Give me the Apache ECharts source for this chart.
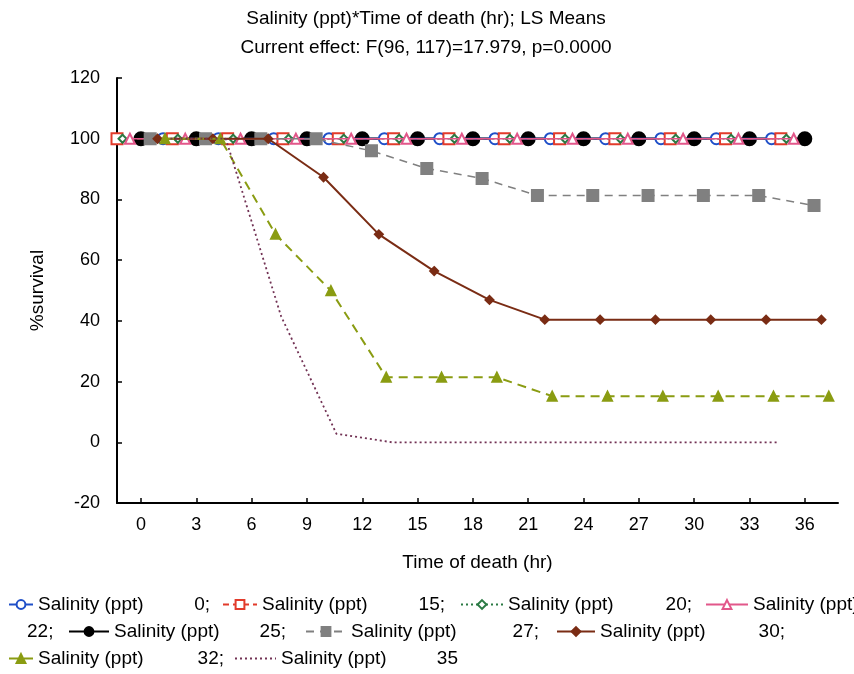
<!DOCTYPE html>
<html>
<head>
<meta charset="utf-8">
<script src="https://cdn.jsdelivr.net/npm/echarts@6/dist/echarts.min.js"></script>
<style>html,body{margin:0;padding:0;background:#fff;}#c{width:854px;height:674px;}</style>
</head>
<body>
<div id="c"></div>
<script>
// ---- data ----
const salinity = [0, 15, 20, 22, 25, 27, 30, 32, 35];
const xTicks = [0, 3, 6, 9, 12, 15, 18, 21, 24, 27, 30, 33, 36];

const t0  = [1.2, 4.2, 7.2, 10.2, 13.2, 16.2, 19.2, 22.2, 25.2, 28.2, 31.2, 34.2];
const v0  = [100, 100, 100, 100, 100, 100, 100, 100, 100, 100, 100, 100];
const t15 = [-1.3, 1.7, 4.7, 7.7, 10.7, 13.7, 16.7, 19.7, 22.7, 25.7, 28.7, 31.7, 34.7];
const v15 = [100, 100, 100, 100, 100, 100, 100, 100, 100, 100, 100, 100, 100];
const t20 = [-1.0, 2.0, 5.0, 8.0, 11.0, 14.0, 17.0, 20.0, 23.0, 26.0, 29.0, 32.0, 35.0];
const v20 = [100, 100, 100, 100, 100, 100, 100, 100, 100, 100, 100, 100, 100];
const t22 = [-0.6, 2.4, 5.4, 8.4, 11.4, 14.4, 17.4, 20.4, 23.4, 26.4, 29.4, 32.4, 35.4];
const v22 = [100, 100, 100, 100, 100, 100, 100, 100, 100, 100, 100, 100, 100];
const t25 = [0, 3, 6, 9, 12, 15, 18, 21, 24, 27, 30, 33, 36];
const v25 = [100, 100, 100, 100, 100, 100, 100, 100, 100, 100, 100, 100, 100];
const t27 = [0.5, 3.5, 6.5, 9.5, 12.5, 15.5, 18.5, 21.5, 24.5, 27.5, 30.5, 33.5, 36.5];
const v27 = [100, 100, 100, 100, 96, 90.2, 86.9, 81.3, 81.3, 81.3, 81.3, 81.3, 78];
const t30 = [0.9, 3.9, 6.9, 9.9, 12.9, 15.9, 18.9, 21.9, 24.9, 27.9, 30.9, 33.9, 36.9];
const v30 = [100, 100, 100, 87.3, 68.5, 56.4, 46.9, 40.4, 40.4, 40.4, 40.4, 40.4, 40.4];
const t32 = [1.3, 4.3, 7.3, 10.3, 13.3, 16.3, 19.3, 22.3, 25.3, 28.3, 31.3, 34.3, 37.3];
const v32 = [100, 100, 68.5, 49.9, 21.4, 21.4, 21.4, 15.2, 15.2, 15.2, 15.2, 15.2, 15.2];
const t35 = [1.6, 4.6, 7.6, 10.6, 13.6, 16.6, 19.6, 22.6, 25.6, 28.6, 31.6, 34.6];
const v35 = [100, 100, 41.5, 2.8, 0, 0, 0, 0, 0, 0, 0, 0];

const times = [t0, t15, t20, t22, t25, t27, t30, t32, t35];
const vals  = [v0, v15, v20, v22, v25, v27, v30, v32, v35];

// ---- styles ----
const FONT = 'Liberation Sans, Arial, sans-serif';
const colors = ['#1f4fc8', '#e23b2b', '#2b7a44', '#e2578a', '#000000', '#808080', '#7a2c14', '#8a9c12', '#723254'];
const symbols = ['emptyCircle', 'emptyRect', 'emptyDiamond', 'emptyTriangle', 'circle', 'rect', 'diamond', 'triangle', 'none'];
const symSizes = [11, 11, 8, 10, 13, 11, 8, 9, 0];
const lineTypes = ['solid', [6, 4], [2, 3], 'solid', 'solid', [8, 6], 'solid', [9, 6], [2, 3]];
const lineWidths = [2, 1.5, 1.5, 1.5, 2.5, 1.5, 2, 2, 1.8];
const zs = [3, 4, 5, 6, 2, 7, 8, 9, 10];

const names = salinity.map(s => 'Salinity (ppt) ' + s);

const series = salinity.map((s, i) => ({
  name: names[i],
  type: 'line',
  data: times[i].map((t, j) => [t, vals[i][j]]),
  symbol: symbols[i],
  symbolSize: symSizes[i],
  showSymbol: symbols[i] !== 'none',
  z: zs[i],
  lineStyle: { color: colors[i], width: lineWidths[i], type: lineTypes[i] },
  itemStyle: { color: colors[i], borderColor: colors[i], borderWidth: 2 },
  emphasis: { disabled: true },
  animation: false
}));

// legend layout: [icon left, top, itemWidth, label, value label, total text width]
const legPos = [
  [8, 595, 24, 'Salinity (ppt)', '0;', 172],
  [222, 595, 34, 'Salinity (ppt)', '15;', 183],
  [460, 595, 42, 'Salinity (ppt)', '20;', 184],
  [705, 595, 42, 'Salinity (ppt)', '', 130],
  [68, 622, 40, 'Salinity (ppt)', '25;', 172],
  [305, 622, 40, 'Salinity (ppt)', '27;', 188],
  [556, 622, 38, 'Salinity (ppt)', '30;', 185],
  [8, 649, 24, 'Salinity (ppt)', '32;', 186],
  [234, 649, 41, 'Salinity (ppt)', '35', 177]
];
const FS = 19;
const legends = legPos.map((p, i) => {
  const lg = {
    show: true,
    left: p[0],
    top: p[1],
    orient: 'horizontal',
    padding: 0,
    itemWidth: p[2],
    itemHeight: 11,
    data: [names[i]],
    selectedMode: false,
    formatter: () => '{n|' + p[3] + '}{v|' + p[4] + '}',
    textStyle: {
      color: '#000',
      fontFamily: FONT,
      fontSize: FS,
      rich: {
        n: { fontSize: FS, fontFamily: FONT, color: '#000', width: p[5] - 34, align: 'left' },
        v: { fontSize: FS, fontFamily: FONT, color: '#000', width: 34, align: 'right' }
      }
    }
  };
  if (symbols[i] === 'none') {
    lg.itemStyle = { opacity: 0 };
  }
  return lg;
});

const chart = echarts.init(document.getElementById('c'), null, { renderer: 'canvas' });
chart.setOption({
  backgroundColor: '#ffffff',
  animation: false,
  title: {
    text: 'Salinity (ppt)*Time of death (hr); LS Means',
    subtext: 'Current effect: F(96, 117)=17.979, p=0.0000',
    left: 421,
    textAlign: 'center',
    top: 4,
    itemGap: 10,
    textStyle: { color: '#000', fontSize: 19, fontWeight: 'normal', fontFamily: FONT },
    subtextStyle: { color: '#000', fontSize: 19, fontFamily: FONT }
  },
  legend: legends,
  graphic: [{
    type: 'text', left: 27, top: 622,
    style: { text: '22;', fontSize: FS, fontFamily: FONT, fill: '#000' }
  }],
  grid: { left: 117, right: 16, top: 78, bottom: 171 },
  xAxis: {
    type: 'value',
    min: -1.3,
    max: 37.8,
    name: 'Time of death (hr)',
    nameLocation: 'middle',
    nameGap: 50,
    nameTextStyle: { color: '#000', fontSize: 19, fontFamily: FONT },
    splitLine: { show: false },
    axisLine: { show: true, onZero: false, lineStyle: { color: '#000', width: 2 } },
    axisTick: { show: true, inside: true, length: 5, customValues: xTicks, lineStyle: { color: '#000', width: 1.5 } },
    axisLabel: { customValues: xTicks, color: '#000', fontSize: 18, margin: 13, fontFamily: FONT, showMinLabel: true, showMaxLabel: true }
  },
  yAxis: {
    type: 'value',
    min: -20,
    max: 120,
    interval: 20,
    name: '%survival',
    nameLocation: 'middle',
    nameGap: 70,
    nameRotate: 90,
    nameTextStyle: { color: '#000', fontSize: 19, fontFamily: FONT },
    splitLine: { show: false },
    axisLine: { show: true, onZero: false, lineStyle: { color: '#000', width: 2 } },
    axisTick: { show: true, inside: true, length: 5, lineStyle: { color: '#000', width: 1.5 } },
    axisLabel: { color: '#000', fontSize: 18, margin: 17, fontFamily: FONT }
  },
  series: series
});
</script>
</body>
</html>
